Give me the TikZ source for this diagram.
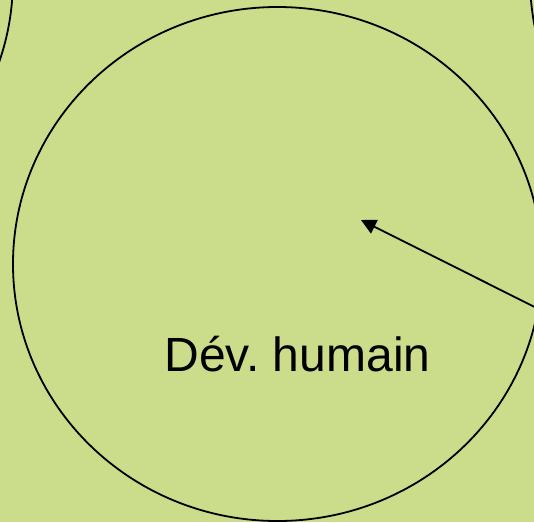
\documentclass[tikz,border=0pt]{standalone}
\usepackage{fontspec}
\setmainfont{Liberation Sans}
\usetikzlibrary{shapes.geometric, arrows.meta, positioning}
\definecolor{fond}{RGB}{203,220,138}
\tikzstyle{cercle} = [ellipse, draw=black, line width=1.8pt, minimum width=529pt, minimum height=514pt, inner sep=0pt]
\tikzstyle{etiquette} = [font=\fontsize{48}{58}\selectfont, text=black, inner sep=0pt]
\tikzstyle{arrow} = [line width=1.8pt, -{Triangle[length=15pt,width=15pt]}]

\begin{document}
\begin{tikzpicture}[x=1pt, y=-1pt]

\useasboundingbox (0,0) rectangle (534,522);
\fill [fond] (0,0) rectangle (534,522);
\clip (0,0) rectangle (534,522);

% Nodes
\node (ecolo) [cercle] at (-251.6,-20) {};
\node (econ) [cercle] at (794.5,-22) {};
\node (devhum) [cercle] at (277.5,264) {};
\node (lbl) [etiquette] at (297.5,354.5) {Dév.\ humain};

\coordinate (depart) at (556,317.7);
\coordinate (pointe) at (361,220);

% Arrows
\draw [arrow] (depart) -- (pointe);

\end{tikzpicture}
\end{document}
